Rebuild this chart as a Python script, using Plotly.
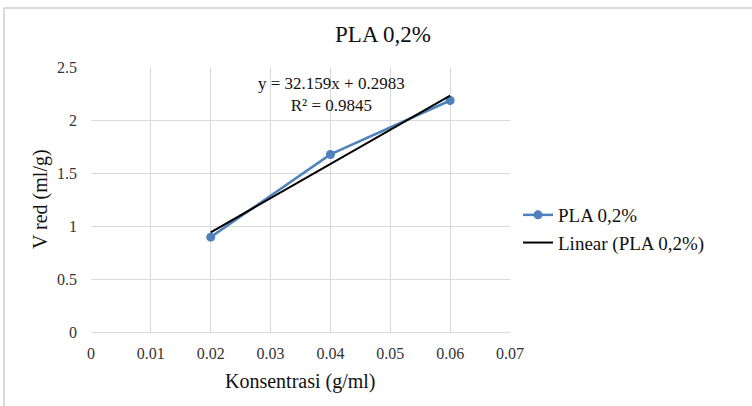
import numpy as np
import plotly.graph_objects as go

# data
konsentrasi = [0.02, 0.04, 0.06]
v_red = [0.895, 1.675, 2.184]
x_ticks = [0, 0.01, 0.02, 0.03, 0.04, 0.05, 0.06, 0.07]
y_ticks = [0, 0.5, 1, 1.5, 2, 2.5]
eq_text = "y = 32.159x + 0.2983<br>R² = 0.9845"

FONT = "Liberation Serif"

# linear trendline
slope, intercept = np.polyfit(konsentrasi, v_red, 1)
fit_y = [slope * x + intercept for x in konsentrasi]

fig = go.Figure()
fig.add_trace(go.Scatter(x=konsentrasi, y=v_red, mode='lines+markers', name='PLA 0,2%',
                         line=dict(color='#4f81bd', width=2.5),
                         marker=dict(size=9, color='#4f81bd')))
fig.add_trace(go.Scatter(x=konsentrasi, y=fit_y, mode='lines', name='Linear (PLA 0,2%)',
                         line=dict(color='black', width=2)))

W, H = 752, 406
L, R, T, B = 91, 242, 67, 74
pw, ph = W - L - R, H - T - B

def px_x(x):
    return (x - L) / pw

def px_y(y):
    return (H - B - y) / ph

fig.update_layout(
    width=W, height=H,
    margin=dict(l=L, r=R, t=T, b=B),
    paper_bgcolor='white', plot_bgcolor='white',
    font=dict(family=FONT, color='#222222'),
    title=dict(text="PLA 0,2%", x=383 / W, y=1 - 34 / H, xanchor='center', yanchor='middle',
               font=dict(family=FONT, size=23, color='#111111')),
    xaxis=dict(range=[0, 0.07], tickvals=x_ticks, ticktext=[f"{v:g}" for v in x_ticks],
               showgrid=True, gridcolor='#d9d9d9', zeroline=False,
               showline=True, linecolor='#d9d9d9', ticks='', ticklabelstandoff=7,
               tickfont=dict(family=FONT, size=16, color='#333333')),
    yaxis=dict(range=[0, 2.5], tickvals=y_ticks, ticktext=[f"{v:g}" for v in y_ticks],
               showgrid=True, gridcolor='#d9d9d9', zeroline=False,
               showline=False, ticks='', ticklabelstandoff=13,
               tickfont=dict(family=FONT, size=16, color='#333333')),
    legend=dict(x=px_x(518), y=px_y(229), xanchor='left', yanchor='middle',
                font=dict(family=FONT, size=19, color='#111111'), bgcolor='rgba(0,0,0,0)'),
    showlegend=True,
)

fig.add_annotation(text=eq_text, x=px_x(331), y=px_y(72), xref='paper', yref='paper',
                   xanchor='center', yanchor='top', showarrow=False, align='center',
                   font=dict(family=FONT, size=17, color='#111111'))
fig.add_annotation(text="V red (ml/g)", x=px_x(40), y=px_y(199), xref='paper', yref='paper',
                   textangle=-90, xanchor='center', yanchor='middle', showarrow=False,
                   font=dict(family=FONT, size=20, color='#111111'))
fig.add_annotation(text="Konsentrasi (g/ml)", x=px_x(300), y=px_y(381), xref='paper', yref='paper',
                   xanchor='center', yanchor='middle', showarrow=False,
                   font=dict(family=FONT, size=20, color='#111111'))

# outer chart border
fig.add_shape(type='rect', xref='paper', yref='paper',
              x0=px_x(4), x1=px_x(800), y0=px_y(450), y1=px_y(8),
              line=dict(color='#d0d0d0', width=1.5), layer='below')

# page has a default 8px body margin; drop it so the figure sits at 0,0
fig.write_html("out.html", config={'displayModeBar': False},
               post_script="document.body.style.margin='0';")
